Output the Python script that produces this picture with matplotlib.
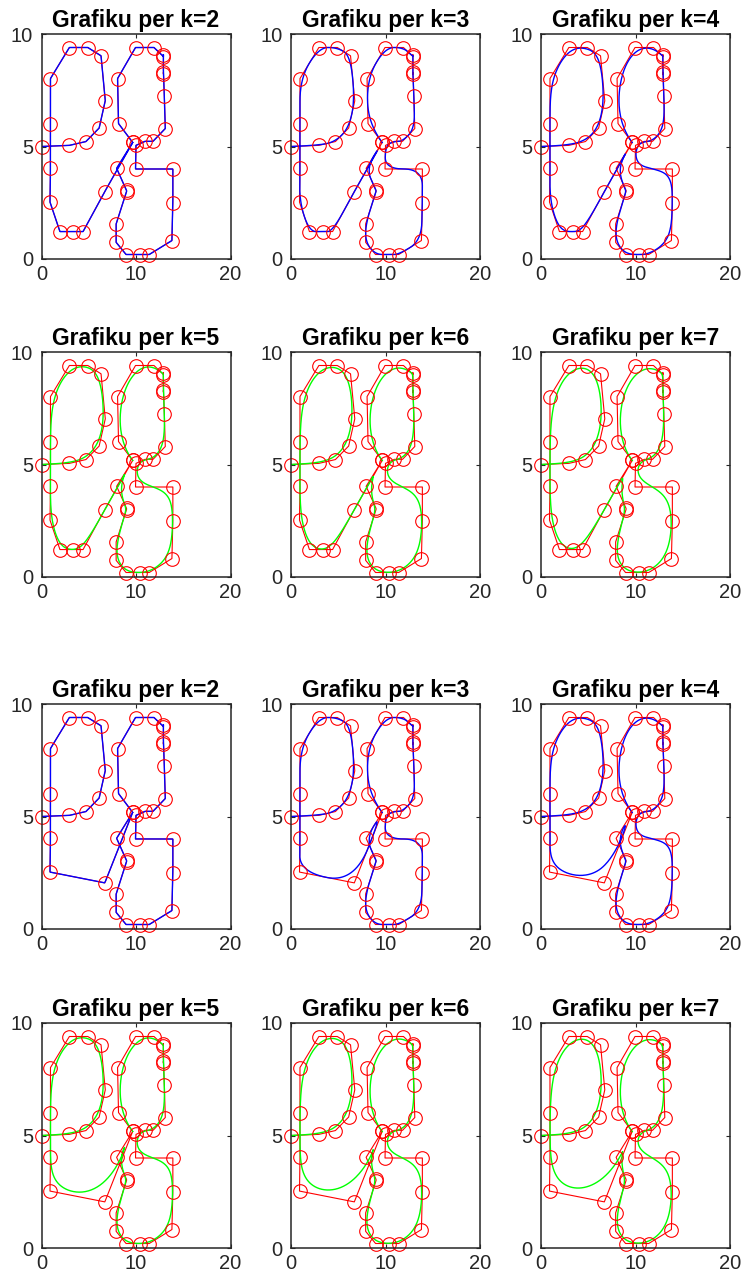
import numpy as np
import matplotlib
matplotlib.use("Agg")
import matplotlib.pyplot as plt

plt.rcParams['font.family'] = ['Liberation Sans', 'DejaVu Sans']

# ---- control points (figure 1, upper two rows) ----
left_loop_x = [0.0, 2.95, 4.7, 6.1, 6.75, 6.3, 4.9, 2.95, 0.95, 0.95, 0.95, 0.9]
left_loop_y = [5.0, 5.05, 5.22, 5.82, 7.03, 9.03, 9.4, 9.4, 8.02, 6.02, 4.04, 2.53]

bottom1_x = [1.95, 3.35, 4.4, 6.7]
bottom1_y = [1.22, 1.22, 1.22, 3.0]

bottom2_x = [6.7]
bottom2_y = [2.05]

right_x = [9.65, 7.95, 9.0, 9.0, 7.9, 7.9, 8.95, 10.4, 11.4, 13.8, 13.9, 13.9, 9.95,
           10.0, 10.95, 11.8, 13.1, 13.0, 12.9, 12.9, 12.9, 12.9, 11.9, 9.95, 8.05, 8.15, 9.65]
right_y = [5.18, 4.03, 3.05, 3.0, 1.56, 0.74, 0.2, 0.2, 0.2, 0.82, 2.5, 4.0, 4.0,
           5.05, 5.23, 5.23, 5.8, 7.25, 8.3, 8.22, 9.08, 9.0, 9.4, 9.4, 8.02, 6.02, 5.18]

orders = [2, 3, 4, 5, 6, 7]
titles = ["Grafiku per k=%d" % k for k in orders]
xticks = [0, 10, 20]
yticks = [0, 5, 10]

P1 = np.column_stack([left_loop_x + bottom1_x + right_x, left_loop_y + bottom1_y + right_y])
P2 = np.column_stack([left_loop_x + bottom2_x + right_x, left_loop_y + bottom2_y + right_y])


def bspline(P, k, n=1500):
    m = len(P)
    inner = m - k
    t = np.concatenate([np.zeros(k), np.arange(1, inner + 1) / (inner + 1), np.ones(k)])
    u = np.linspace(0, 1, n)
    u[-1] -= 1e-10
    N = ((t[:-1][None, :] <= u[:, None]) & (u[:, None] < t[1:][None, :])).astype(float)
    for d in range(2, k + 1):
        cnt = len(t) - d
        newN = np.zeros((n, cnt))
        for i in range(cnt):
            den1 = t[i + d - 1] - t[i]
            den2 = t[i + d] - t[i + 1]
            a = (u - t[i]) / den1 * N[:, i] if den1 > 0 else 0.0
            b = (t[i + d] - u) / den2 * N[:, i + 1] if den2 > 0 else 0.0
            newN[:, i] = a + b
        N = newN
    return N @ P


fig = plt.figure(figsize=(7.48, 12.86), dpi=100)
W, H = 748.0, 1286.0
row_tops = [34, 352, 704, 1023]
col_lefts = [41.5, 291, 541]
aw, ah = 189, 225

for fi, P in enumerate([P1, P2]):
    for j, k in enumerate(orders):
        r = fi * 2 + j // 3
        c = j % 3
        ax = fig.add_axes([col_lefts[c] / W, 1 - (row_tops[r] + ah) / H, aw / W, ah / H])
        ax.plot(P[:, 0], P[:, 1], color='red', lw=0.8)
        curve = bspline(P, k)
        ax.plot(curve[:, 0], curve[:, 1], color='blue' if k <= 4 else (0, 1, 0), lw=1.0)
        ax.plot(P[:, 0], P[:, 1], 'o', mfc='none', mec='red', ms=9.8, mew=0.8, clip_on=False)
        ax.set_xlim(0, 20)
        ax.set_ylim(0, 10)
        ax.set_xticks(xticks)
        ax.set_yticks(yticks)
        ax.tick_params(axis='both', direction='in', top=True, right=True, length=3, width=0.8,
                       labelsize=14.5, colors='#262626', labelcolor='#262626')
        ax.tick_params(axis='y', pad=6)
        ax.tick_params(axis='x', pad=4)
        for s in ax.spines.values():
            s.set_linewidth(1.1)
            s.set_color('#262626')
        ax.set_title(titles[j], fontsize=16.5, fontweight='bold', pad=5)

fig.savefig("out.png", dpi=100)
